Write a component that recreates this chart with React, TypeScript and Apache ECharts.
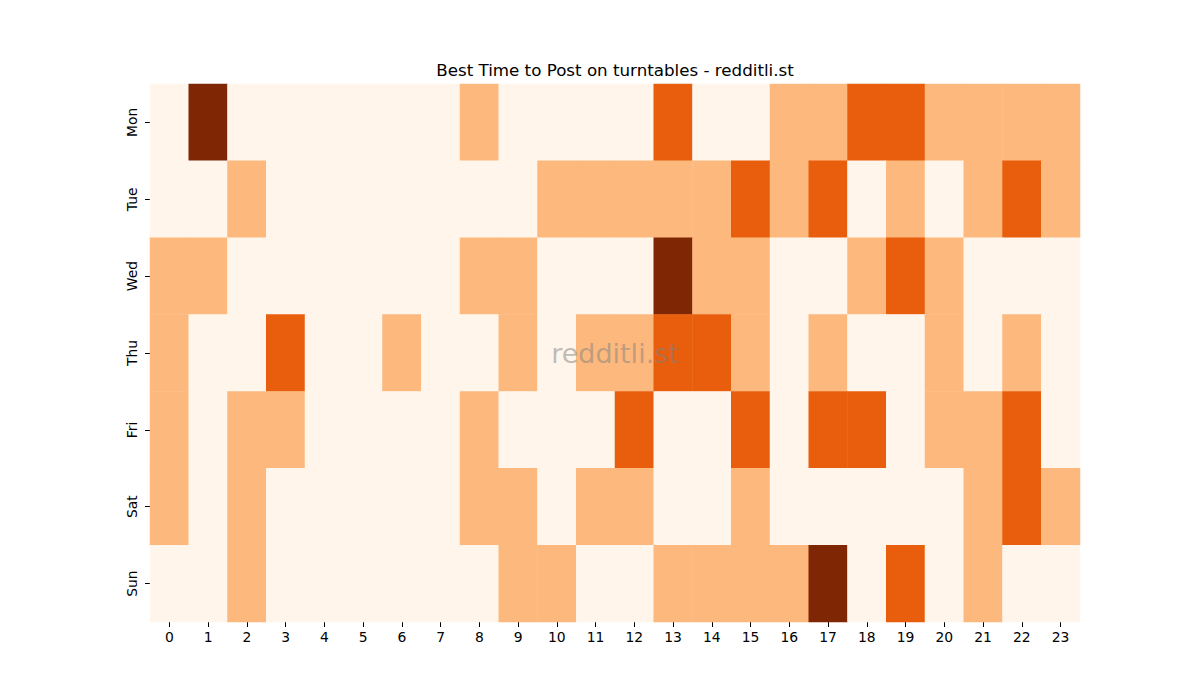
import React, { useEffect, useRef } from 'react';
import * as echarts from 'echarts';

const hours = Array.from({ length: 24 }, (_, i) => String(i));
const days = ['Mon', 'Tue', 'Wed', 'Thu', 'Fri', 'Sat', 'Sun'];

// activity level per hour (0-3)
const mon = [0, 3, 0, 0, 0, 0, 0, 0, 1, 0, 0, 0, 0, 2, 0, 0, 1, 1, 2, 2, 1, 1, 1, 1];
const tue = [0, 0, 1, 0, 0, 0, 0, 0, 0, 0, 1, 1, 1, 1, 1, 2, 1, 2, 0, 1, 0, 1, 2, 1];
const wed = [1, 1, 0, 0, 0, 0, 0, 0, 1, 1, 0, 0, 0, 3, 1, 1, 0, 0, 1, 2, 1, 0, 0, 0];
const thu = [1, 0, 0, 2, 0, 0, 1, 0, 0, 1, 0, 1, 1, 2, 2, 1, 0, 1, 0, 0, 1, 0, 1, 0];
const fri = [1, 0, 1, 1, 0, 0, 0, 0, 1, 0, 0, 0, 2, 0, 0, 2, 0, 2, 2, 0, 1, 1, 2, 0];
const sat = [1, 0, 1, 0, 0, 0, 0, 0, 1, 1, 0, 1, 1, 0, 0, 1, 0, 0, 0, 0, 0, 1, 2, 1];
const sun = [0, 0, 1, 0, 0, 0, 0, 0, 0, 1, 1, 0, 0, 1, 1, 1, 1, 3, 0, 2, 0, 1, 0, 0];

const levelColors = ['#FFF5EB', '#FDB97D', '#E95E0D', '#7F2704'];

export default function App() {
  const chartRef = useRef<HTMLDivElement>(null);

  useEffect(() => {
    if (!chartRef.current) return;
    const chart = echarts.init(chartRef.current, null, { renderer: 'svg' });

    const rows = [mon, tue, wed, thu, fri, sat, sun];
    const data: number[][] = [];
    rows.forEach((row, d) => {
      row.forEach((v, h) => data.push([h, d, v]));
    });

    const font = 'DejaVu Sans';

    chart.setOption({
      animation: false,
      backgroundColor: '#ffffff',
      title: {
        text: 'Best Time to Post on turntables - redditli.st',
        left: 610,
        top: 56,
        textAlign: 'center',
        textStyle: { fontFamily: font, fontSize: 16.7, fontWeight: 'normal', color: '#000' },
      },
      grid: { left: 150, right: 120, top: 84, bottom: 78 },
      xAxis: {
        type: 'category',
        data: hours,
        axisLine: { show: false },
        axisTick: { show: true, alignWithLabel: true, length: 5, lineStyle: { color: '#000', width: 1 } },
        axisLabel: { fontFamily: font, fontSize: 13.9, color: '#000', margin: 8 },
        splitLine: { show: false },
      },
      yAxis: {
        type: 'category',
        data: days,
        inverse: true,
        axisLine: { show: false },
        axisTick: { show: true, alignWithLabel: true, length: 5, lineStyle: { color: '#000', width: 1 } },
        axisLabel: { fontFamily: font, fontSize: 13.9, color: '#000', margin: 11, rotate: 90 },
        splitLine: { show: false },
      },
      visualMap: {
        show: false,
        type: 'piecewise',
        dimension: 2,
        pieces: levelColors.map((c, i) => ({ value: i, color: c })),
      },
      series: [
        {
          type: 'heatmap',
          data,
          itemStyle: { borderWidth: 0 },
          emphasis: { disabled: true },
        },
      ],
      graphic: [
        {
          type: 'text',
          x: 615,
          y: 353,
          z: 100,
          style: {
            text: 'redditli.st',
            fontFamily: font,
            fontSize: 27,
            fill: 'rgba(128,128,128,0.5)',
            textAlign: 'center',
            textVerticalAlign: 'middle',
          },
        },
      ],
    });

    return () => chart.dispose();
  }, []);

  return (
    <div
      ref={chartRef}
      style={{ position: 'fixed', left: 0, top: 0, width: 1200, height: 700 }}
    />
  );
}
